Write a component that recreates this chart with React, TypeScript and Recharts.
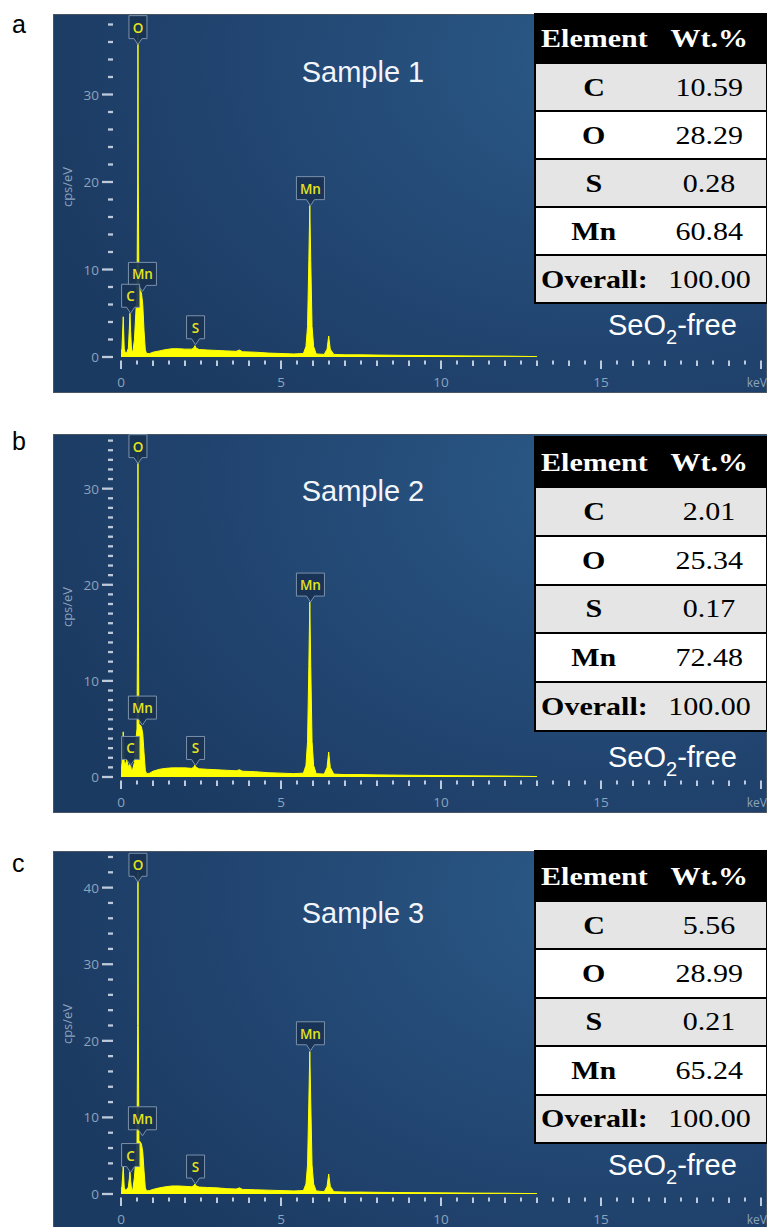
import React from 'react';
import { ComposedChart, Area, XAxis, YAxis, ReferenceDot } from 'recharts';

// ---------- data ----------
const energy = [0, 0.03, 0.07, 0.1, 0.13, 0.18, 0.23, 0.26, 0.28, 0.3, 0.33, 0.37, 0.42, 0.47, 0.5, 0.52, 0.53, 0.54, 0.56, 0.6, 0.64, 0.68, 0.72, 0.76, 0.8, 0.9, 1.0, 1.2, 1.4, 1.6, 1.8, 2.0, 2.2, 2.27, 2.31, 2.35, 2.45, 2.7, 3.0, 3.3, 3.6, 3.7, 3.8, 4.2, 4.6, 5.0, 5.4, 5.7, 5.78, 5.83, 5.87, 5.9, 5.93, 5.97, 6.02, 6.1, 6.35, 6.44, 6.49, 6.54, 6.65, 7.0, 7.5, 8.0, 9.0, 10.0, 11.0, 12.0, 13.0];

const countsA = [0.3, 1.0, 4.6, 1.0, 0.5, 0.5, 1.0, 3.2, 5.0, 3.0, 0.8, 0.6, 2.0, 5.5, 7.0, 20, 37.5, 20, 8.0, 7.6, 7.3, 6.0, 3.0, 0.8, 0.4, 0.4, 0.55, 0.7, 0.85, 0.95, 0.95, 0.9, 0.9, 1.0, 1.3, 1.0, 0.85, 0.8, 0.75, 0.7, 0.65, 0.8, 0.6, 0.55, 0.45, 0.4, 0.35, 0.4, 1.2, 3.5, 11, 17.3, 11, 3.5, 1.2, 0.35, 0.3, 0.9, 2.4, 0.9, 0.3, 0.25, 0.25, 0.22, 0.18, 0.15, 0.12, 0.1, 0.05];
const countsB = [0.3, 1.5, 4.7, 1.6, 1.2, 1.8, 1.0, 1.3, 1.6, 1.2, 0.6, 0.9, 1.5, 4.0, 5.0, 18, 33.5, 18, 5.5, 5.4, 5.2, 4.5, 2.5, 0.7, 0.35, 0.4, 0.6, 0.8, 0.9, 0.95, 0.95, 0.95, 0.9, 1.0, 1.25, 1.0, 0.85, 0.8, 0.75, 0.7, 0.65, 0.75, 0.6, 0.55, 0.45, 0.4, 0.35, 0.4, 1.2, 3.7, 11.5, 18.2, 11.5, 3.7, 1.2, 0.35, 0.3, 1.0, 2.6, 1.0, 0.3, 0.25, 0.25, 0.22, 0.18, 0.15, 0.12, 0.1, 0.05];
const countsC = [0.3, 1.0, 3.6, 0.9, 0.5, 0.6, 0.9, 2.0, 2.9, 1.8, 0.6, 0.6, 2.2, 5.0, 6.5, 22, 42, 22, 7.0, 6.8, 6.5, 5.5, 3.0, 0.8, 0.4, 0.45, 0.6, 0.8, 0.95, 1.05, 1.05, 1.0, 0.95, 1.05, 1.3, 1.05, 0.9, 0.85, 0.8, 0.7, 0.65, 0.8, 0.6, 0.55, 0.5, 0.45, 0.4, 0.45, 1.3, 3.8, 12, 18.6, 12, 3.8, 1.3, 0.4, 0.3, 1.0, 2.6, 1.0, 0.3, 0.25, 0.25, 0.22, 0.18, 0.15, 0.12, 0.1, 0.05];

const xTicks = [0, 0.5, 1, 1.5, 2, 2.5, 3, 3.5, 4, 4.5, 5, 5.5, 6, 6.5, 7, 7.5, 8, 8.5, 9, 9.5, 10, 10.5, 11, 11.5, 12, 12.5, 13, 13.5, 14, 14.5, 15, 15.5, 16, 16.5, 17, 17.5, 18, 18.5, 19, 19.5, 20];
const xTickLabels: Record<number, string> = { 0: '0', 5: '5', 10: '10', 15: '15', 20: 'keV' };

const yTicksA = [0, 2, 4, 6, 8, 10, 12, 14, 16, 18, 20, 22, 24, 26, 28, 30, 32, 34, 36, 38];
const yTicksB = [0, 1, 2, 3, 4, 5, 6, 7, 8, 9, 10, 11, 12, 13, 14, 15, 16, 17, 18, 19, 20, 21, 22, 23, 24, 25, 26, 27, 28, 29, 30, 31, 32, 33, 34, 35];
const yTicksC = [0, 2, 4, 6, 8, 10, 12, 14, 16, 18, 20, 22, 24, 26, 28, 30, 32, 34, 36, 38, 40, 42, 44];
const yLabeledTicks = [0, 10, 20, 30, 40];

const peakNames = ['O', 'Mn', 'C', 'S', 'Mn'];
const peakEnergies = [0.53, 0.67, 0.3, 2.33, 5.92];
const peakTipA = [35.7, 7.5, 5.0, 1.4, 17.3];
const peakTipB = [32.6, 5.4, 1.2, 1.2, 18.2];
const peakTipC = [40.7, 7.6, 2.8, 1.3, 18.7];

const elements = ['C', 'O', 'S', 'Mn'];
const wtA = ['10.59', '28.29', '0.28', '60.84'];
const wtB = ['2.01', '25.34', '0.17', '72.48'];
const wtC = ['5.56', '28.99', '0.21', '65.24'];
const overallValue = '100.00';

const panelLetters = ['a', 'b', 'c'];
const sampleTitles = ['Sample 1', 'Sample 2', 'Sample 3'];

// ---------- layout ----------
const panelLeft = 53;
const panelW = 714;
const panelH = 379;
const panelTops = [14, 434, 851];
const plotTopMargins = [10.5, 6.6, 6];
const xAxisH = 36;
const yAxisW = 68;
const tableTops = [-1, 2, -1];
const headerHs = [49, 50, 50];
const rowHs = [48, 48.8, 48.4];
const titleBaselines = [67.5, 66.5, 72];
const saltBaselines = [321, 333, 324];
const letterBaselines = [33, 450, 872];

const SANS = "'Liberation Sans', Arial, sans-serif";
const UI = "'Open Sans', 'Noto Sans', sans-serif";
const SERIF = "'Liberation Serif', 'Times New Roman', serif";
const AXIS_TEXT = '#8ea3bc';
const AXIS_MARK = '#bccadb';

const YTick = (props: any) => {
  const { x, y, payload } = props;
  const v = payload.value;
  const major = yLabeledTicks.includes(v);
  return (
    <g>
      <line x1={major ? x - 19 : x - 13} x2={x - 8} y1={y} y2={y} stroke={AXIS_MARK} strokeWidth={2.3} />
      {major && (
        <text x={x - 22} y={y} textAnchor="end" dominantBaseline="central" fill={AXIS_TEXT} fontSize={13.5} fontFamily={UI}>
          {v}
        </text>
      )}
    </g>
  );
};

const XTick = (props: any) => {
  const { x, y, payload } = props;
  const v = payload.value;
  const label = xTickLabels[v];
  const isInt = Number.isInteger(v);
  const len = label !== undefined ? 12 : isInt ? 9 : 7.5;
  return (
    <g>
      <line x1={x} x2={x} y1={y + 3.5} y2={y + len} stroke={AXIS_MARK} strokeWidth={2} />
      {label !== undefined && (
        <text
          x={v === 20 ? x + 6 : x}
          y={y + 25}
          textAnchor={v === 20 ? 'end' : 'middle'}
          dominantBaseline="central"
          fill={AXIS_TEXT}
          fontSize={v === 20 ? 12 : 13.5}
          fontFamily={UI}
        >
          {label}
        </text>
      )}
    </g>
  );
};

const PeakLabel = ({ cx, cy, text }: any) => {
  if (cx == null || cy == null) return null;
  const w = text.length > 1 ? 28 : 18;
  const h = 23;
  const p = 6;
  const top = cy - p - h;
  const bottom = cy - p;
  const l = cx - w / 2;
  const r = cx + w / 2;
  const d = `M${l},${top} H${r} V${bottom} H${cx + 4} L${cx},${cy} L${cx - 4},${bottom} H${l} Z`;
  return (
    <g>
      <path d={d} fill="rgba(24,50,82,0.92)" stroke="#7b91ab" strokeWidth={1} />
      <text x={cx} y={top + h / 2 + 0.5} textAnchor="middle" dominantBaseline="central" fill="#e4e41c" fontSize={13.5} fontWeight={600} fontFamily={UI}>
        {text}
      </text>
    </g>
  );
};

const CpsLabel = () => (
  <text x={13.5} y={173} transform="rotate(-90 13.5 173)" textAnchor="middle" dominantBaseline="central" fill={AXIS_TEXT} fontSize={13} fontFamily={UI}>
    cps/eV
  </text>
);

const Stretch = ({ children, bold }: any) => (
  <span style={{ display: 'inline-block', transform: 'scaleX(1.2)', fontWeight: bold ? 700 : 400 }}>{children}</span>
);

const WtTable = ({ values, top, headerH, rowH }: any) => {
  const rows = elements.map((el, i) => ({ el, v: values[i] }));
  rows.push({ el: 'Overall:', v: overallValue });
  const cell = (content: any, width: number) => (
    <div style={{ width, display: 'flex', alignItems: 'center', justifyContent: 'center', height: '100%' }}>{content}</div>
  );
  return (
    <div
      style={{
        position: 'absolute',
        left: 481,
        top,
        width: 234,
        boxSizing: 'border-box',
        border: '2px solid #000',
        background: '#000',
        fontFamily: SERIF,
        fontSize: 25,
        lineHeight: 1,
      }}
    >
      <div style={{ height: headerH - 2, display: 'flex', color: '#fff', background: '#000' }}>
        {cell(<Stretch bold>Element</Stretch>, 116)}
        {cell(<Stretch bold>Wt.%</Stretch>, 114)}
      </div>
      {rows.map((r, i) => (
        <div
          key={i}
          style={{
            height: rowH - 2,
            marginTop: 2,
            display: 'flex',
            color: '#000',
            background: i % 2 === 0 ? '#e5e5e5' : '#ffffff',
          }}
        >
          {cell(<Stretch bold>{r.el}</Stretch>, 116)}
          {cell(<Stretch>{r.v}</Stretch>, 114)}
        </div>
      ))}
    </div>
  );
};

const Panel = ({ idx, counts, yTicks, yMax, tips, wt }: any) => {
  const data = energy.map((e, i) => ({ e, c: counts[i] }));
  return (
    <div
      style={{
        position: 'absolute',
        left: panelLeft,
        top: panelTops[idx],
        width: panelW,
        height: panelH,
        background: 'radial-gradient(ellipse 85% 120% at 78% 12%, #2b5a88 0%, #254c79 40%, #1f416b 75%, #1b3a61 100%)',
        boxShadow: 'inset 0 0 0 1px #4a5563',
      }}
    >
      <ComposedChart
        width={panelW}
        height={panelH}
        data={data}
        margin={{ top: plotTopMargins[idx], right: 6, bottom: 0, left: 0 }}
      >
        <XAxis
          dataKey="e"
          type="number"
          domain={[0, 20]}
          ticks={xTicks}
          interval={0}
          height={xAxisH}
          axisLine={false}
          tickLine={false}
          tickSize={0}
          tickMargin={0}
          tick={<XTick />}
          allowDataOverflow
        />
        <YAxis
          type="number"
          domain={[0, yMax]}
          ticks={yTicks}
          interval={0}
          width={yAxisW}
          axisLine={false}
          tickLine={false}
          tickSize={0}
          tickMargin={0}
          tick={<YTick />}
          allowDataOverflow
          label={{ content: <CpsLabel /> }}
        />
        <Area
          dataKey="c"
          type="linear"
          stroke="#ffff00"
          strokeWidth={1}
          fill="#ffff00"
          fillOpacity={1}
          isAnimationActive={false}
          dot={false}
          activeDot={false}
          baseValue={0}
        />
        {peakNames.map((name, i) => (
          <ReferenceDot
            key={i}
            x={peakEnergies[i]}
            y={tips[i]}
            r={0}
            ifOverflow="visible"
            shape={(p: any) => <PeakLabel cx={p.cx} cy={p.cy} text={name} />}
          />
        ))}
      </ComposedChart>
      <svg width={panelW} height={panelH} style={{ position: 'absolute', left: 0, top: 0, pointerEvents: 'none' }}>
        <text x={310} y={titleBaselines[idx]} textAnchor="middle" fill="#f2f5f9" fontSize={29} fontFamily={SANS}>
          {sampleTitles[idx]}
        </text>
        <text x={555} y={saltBaselines[idx]} fill="#ffffff" fontSize={29} fontFamily={SANS}>
          SeO
          <tspan fontSize={20} dy={9}>2</tspan>
          <tspan dy={-9}>-free</tspan>
        </text>
      </svg>
      <WtTable values={wt} top={tableTops[idx]} headerH={headerHs[idx]} rowH={rowHs[idx]} />
    </div>
  );
};

export default function App() {
  const configs = [
    { counts: countsA, yTicks: yTicksA, yMax: 38, tips: peakTipA, wt: wtA },
    { counts: countsB, yTicks: yTicksB, yMax: 35, tips: peakTipB, wt: wtB },
    { counts: countsC, yTicks: yTicksC, yMax: 44, tips: peakTipC, wt: wtC },
  ];
  return (
    <div
      style={{
        position: 'absolute',
        left: 0,
        top: 0,
        width: 767,
        height: 1227,
        overflow: 'hidden',
        background: '#ffffff',
      }}
    >
      {configs.map((c, i) => (
        <Panel key={i} idx={i} {...c} />
      ))}
      <svg width={767} height={1227} style={{ position: 'absolute', left: 0, top: 0, pointerEvents: 'none' }}>
        {panelLetters.map((l, i) => (
          <text key={l} x={12} y={letterBaselines[i]} fill="#000" fontSize={25} fontFamily={SANS}>
            {l}
          </text>
        ))}
      </svg>
    </div>
  );
}
